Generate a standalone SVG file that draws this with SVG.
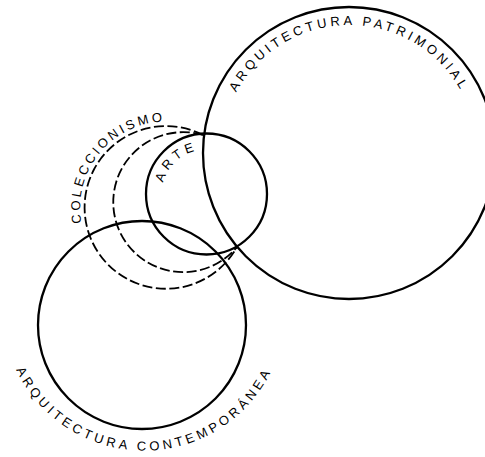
<svg xmlns="http://www.w3.org/2000/svg" width="485" height="457" viewBox="0 0 485 457">
<style>
.c{fill:none;stroke:#000;stroke-width:2.3}
.d{fill:none;stroke:#000;stroke-width:1.8;stroke-dasharray:10 3.5}
.t{font-family:"Liberation Sans",Arial,sans-serif;font-size:13px;fill:#000}
</style>
<defs>
<path id="pPat" d="M221 153 A128 128 0 0 1 477 153"/>
<path id="pCol" d="M110.88 274.14 A86.5 86.5 0 0 1 220.92 140.66"/>
<path id="pArte" d="M173.81 224.49 A44.7 44.7 0 0 1 239.19 163.51"/>
<path id="pCon" d="M2.4 309 A141.6 141.6 0 0 0 285.6 309"/>
</defs>
<rect width="485" height="457" fill="#fff"/>
<g id="patrimonial">
<circle class="c" cx="349" cy="153" r="146"/>
<text class="t" letter-spacing="3.5"><textPath href="#pPat" startOffset="50%" text-anchor="middle">ARQUITECTURA PATRIMONIAL</textPath></text>
</g>
<g id="contemporanea">
<circle class="c" cx="142" cy="325" r="104"/>
<text class="t" letter-spacing="3.6"><textPath href="#pCon" startOffset="50%" text-anchor="middle">ARQUITECTURA CONTEMPORÁNEA</textPath></text>
</g>
<g id="coleccionismo">
<path class="d" d="M203 135 A81.35 81.35 0 1 0 237 247"/>
<path class="d" d="M203 135 A70 70 0 1 0 237 247"/>
<text class="t" letter-spacing="3"><textPath href="#pCol" startOffset="50%" text-anchor="middle">COLECCIONISMO</textPath></text>
</g>
<g id="arte">
<circle class="c" cx="206.5" cy="194" r="60.5"/>
<text class="t" letter-spacing="4.1"><textPath href="#pArte" startOffset="50%" text-anchor="middle">ARTE</textPath></text>
</g>
<g id="connectors"></g>
</svg>
